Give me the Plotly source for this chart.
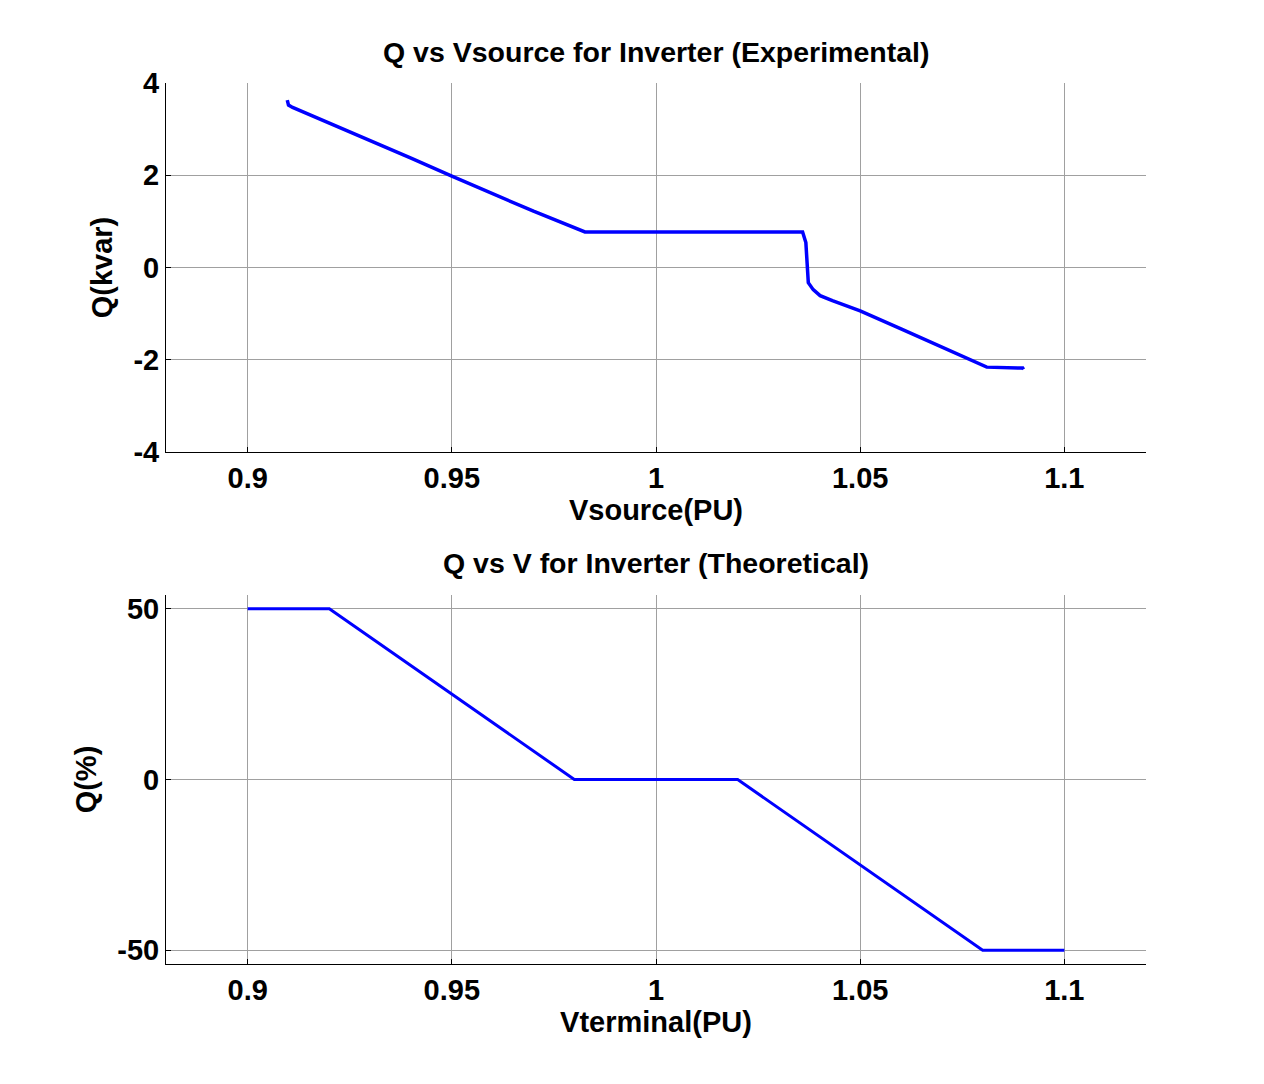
import plotly.graph_objects as go

v_exp = [0.9097, 0.9100, 0.9110, 0.9200, 0.9300, 0.9400, 0.9500, 0.9600, 0.9700, 0.9826,
         1.0000, 1.0200, 1.0359, 1.0367, 1.0370, 1.0373, 1.0385, 1.0402, 1.0432, 1.0500,
         1.0600, 1.0700, 1.0810, 1.0898, 1.0900]
q_exp = [3.63, 3.52, 3.47, 3.13, 2.76, 2.37, 1.98, 1.60, 1.22, 0.77,
         0.77, 0.77, 0.77, 0.54, -0.05, -0.33, -0.48, -0.61, -0.72, -0.94,
         -1.33, -1.73, -2.16, -2.18, -2.21]

# Theoretical curve
v_th = [0.90, 0.92, 0.98, 1.02, 1.08, 1.10]
q_th = [50, 50, 0, 0, -50, -50]

x_ticks = [0.9, 0.95, 1.0, 1.05, 1.1]
x_tick_labels = ["0.9", "0.95", "1", "1.05", "1.1"]
y1_ticks = [-4, -2, 0, 2, 4]
y1_tick_labels = ["-4", "-2", "0", "2", "4"]
y2_ticks = [-50, 0, 50]
y2_tick_labels = ["-50", "0", "50"]

W, H = 1264, 1084
FONT = "Liberation Sans, Arial, sans-serif"

fig = go.Figure()
fig.add_trace(go.Scatter(x=v_exp, y=q_exp, mode="lines",
                         line=dict(color="#0000ff", width=3.5), xaxis="x", yaxis="y"))
fig.add_trace(go.Scatter(x=v_th, y=q_th, mode="lines",
                         line=dict(color="#0000ff", width=3), xaxis="x2", yaxis="y2"))

xd = [166 / W, 1146 / W]
y1d = [1 - 452 / H, 1 - 83 / H]
y2d = [1 - 964 / H, 1 - 595 / H]

tickfont = dict(family=FONT, size=29, color="black", weight="bold")
titlefont = dict(family=FONT, size=29, color="black", weight="bold")
headfont = dict(family=FONT, size=28.5, color="black", weight="bold")

common_x = dict(range=[0.88, 1.12], tickvals=x_ticks, ticktext=x_tick_labels,
                showgrid=True, gridcolor="#a0a0a0", gridwidth=1, zeroline=False,
                showline=True, linecolor="black", linewidth=1,
                ticks="inside", ticklen=5, tickcolor="black",
                tickfont=tickfont, domain=xd, automargin=False)
common_y = dict(showgrid=True, gridcolor="#a0a0a0", gridwidth=1, zeroline=False,
                showline=True, linecolor="black", linewidth=1,
                ticks="inside", ticklen=5, tickcolor="black",
                tickfont=tickfont, automargin=False)

fig.update_layout(
    width=W, height=H,
    margin=dict(l=0, r=0, t=0, b=0, autoexpand=False),
    paper_bgcolor="white", plot_bgcolor="white",
    showlegend=False,
    xaxis=dict(**common_x, anchor="y",
               title=dict(text="Vsource(PU)", font=titlefont, standoff=3)),
    yaxis=dict(**common_y, range=[-4, 4], tickvals=y1_ticks, ticktext=y1_tick_labels,
               domain=y1d, anchor="x",
               title=dict(text="Q(kvar)", font=titlefont, standoff=12)),
    xaxis2=dict(**common_x, anchor="y2",
                title=dict(text="Vterminal(PU)", font=titlefont, standoff=3)),
    yaxis2=dict(**common_y, range=[-54, 54], tickvals=y2_ticks, ticktext=y2_tick_labels,
                domain=y2d, anchor="x2",
                title=dict(text="Q(%)", font=titlefont, standoff=12)),
    annotations=[
        dict(text="Q vs Vsource for Inverter (Experimental)", x=(xd[0] + xd[1]) / 2,
             y=1 - 52 / H, xref="paper", yref="paper", showarrow=False,
             xanchor="center", yanchor="middle", font=headfont),
        dict(text="Q vs V for Inverter (Theoretical)", x=(xd[0] + xd[1]) / 2,
             y=1 - 563 / H, xref="paper", yref="paper", showarrow=False,
             xanchor="center", yanchor="middle", font=headfont),
    ],
)

fig.write_html("out.html")
